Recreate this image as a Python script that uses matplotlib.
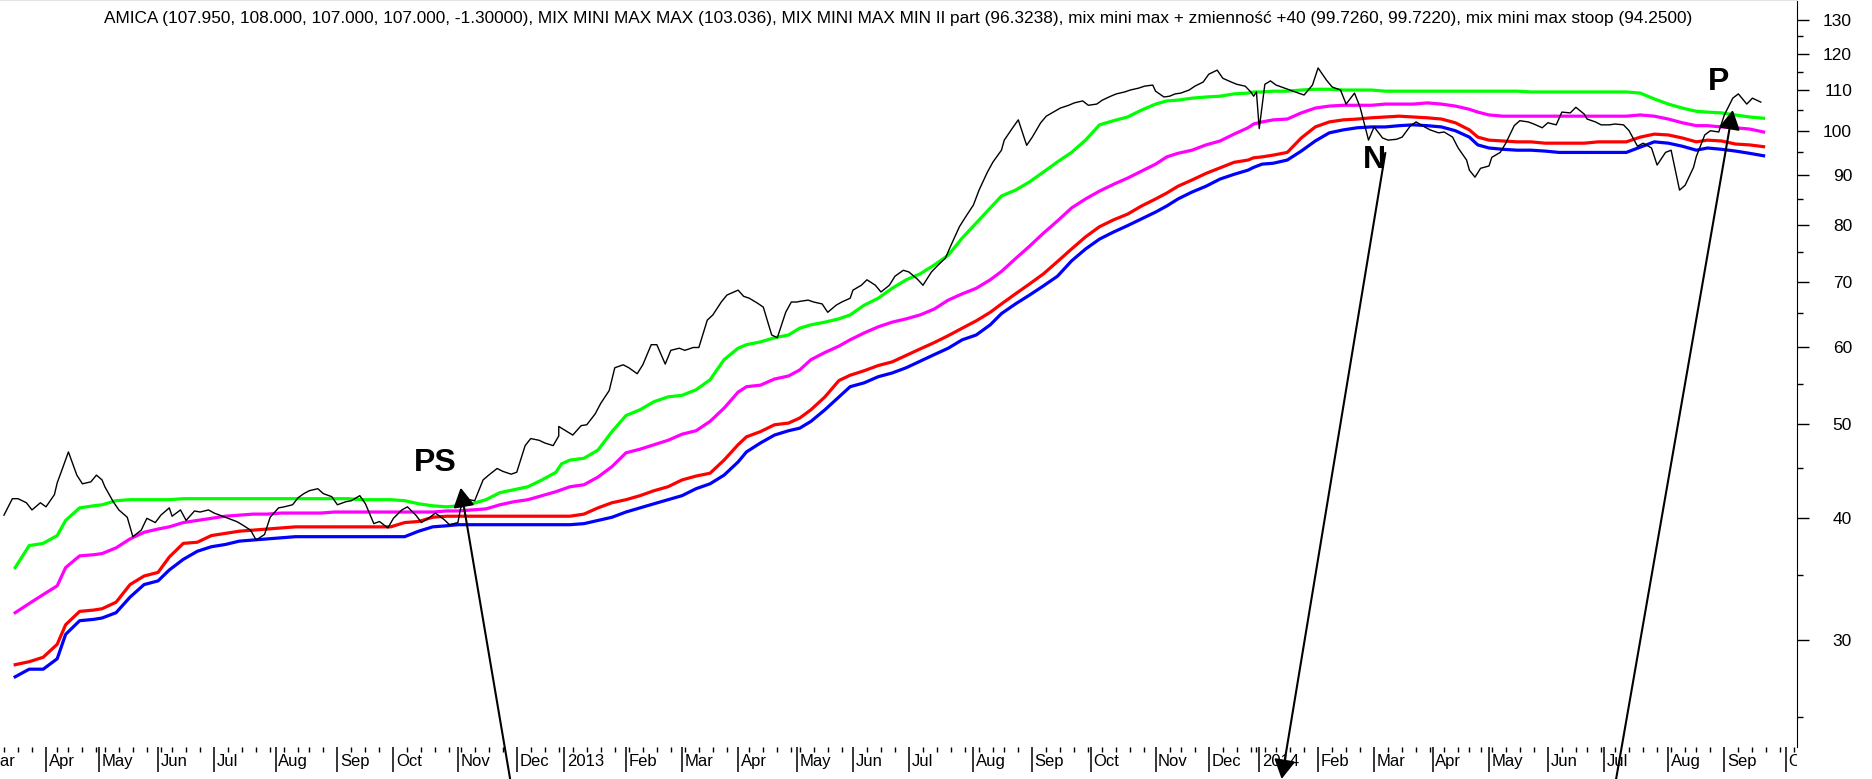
import numpy as np
import pandas as pd
import matplotlib
matplotlib.use('Agg')
import matplotlib.pyplot as plt
from matplotlib.ticker import NullFormatter
from matplotlib.transforms import Bbox, TransformedBbox, blended_transform_factory

plt.rcParams['font.family'] = ['Liberation Sans', 'DejaVu Sans']

# Warsaw exchange closing days inside the chart window
gpw_holidays = [
    '2012-04-06', '2012-04-09', '2012-05-01', '2012-05-03', '2012-06-07', '2012-08-15',
    '2012-11-01', '2012-12-24', '2012-12-25', '2012-12-26', '2012-12-31',
    '2013-01-01', '2013-03-29', '2013-04-01', '2013-05-01', '2013-05-03', '2013-05-30',
    '2013-08-15', '2013-11-01', '2013-11-11', '2013-12-24', '2013-12-25', '2013-12-26',
    '2013-12-31', '2014-01-01', '2014-01-06', '2014-04-18', '2014-04-21', '2014-05-01',
    '2014-06-19', '2014-08-15',
]

title = ('AMICA (107.950, 108.000, 107.000, 107.000, -1.30000), MIX MINI MAX MAX (103.036), '
         'MIX MINI MAX MIN II part (96.3238), mix mini max + zmienność +40 (99.7260, 99.7220), '
         'mix mini max stoop (94.2500)')

close_first, close_last = '2012-03-12', '2014-09-18'
close = [
    40.3, 41.9, 41.9, 41.5, 40.8, 41.5, 41.1, 42.3, 43.5, 45.1,
    46.8, 44.3, 43.4, 43.6, 44.3, 43.8, 43.1, 41.6, 40.8, 40.1,
    38.3, 38.9, 40.0, 39.6, 40.3, 41.0, 40.2, 40.8, 39.8, 40.7,
    40.6, 40.8, 40.5, 40.2, 40.0, 39.7, 39.4, 38.9, 38.0, 38.5,
    40.1, 41.0, 41.1, 41.3, 42.0, 42.4, 42.7, 42.9, 42.4, 42.1,
    41.3, 41.6, 41.7, 42.2, 41.4, 39.5, 39.7, 39.1, 40.0, 40.8,
    41.1, 40.3, 39.6, 40.1, 40.5, 39.9, 39.4, 39.6, 41.0, 41.8,
    41.7, 43.8, 44.3, 45.0, 44.7, 44.4, 44.6, 47.5, 48.3, 48.1,
    47.8, 47.5, 48.6, 49.7, 49.3, 49.1, 48.7, 49.8, 49.9, 51.2,
    52.5, 54.1, 57.1, 57.5, 57.1, 56.3, 57.5, 60.3, 60.3, 57.6,
    59.5, 59.8, 59.5, 59.9, 59.9, 63.9, 64.7, 66.7, 67.8, 68.4,
    68.6, 67.6, 67.3, 66.5, 65.9, 61.7, 61.3, 65.1, 66.7, 66.7,
    66.8, 67.0, 66.7, 66.4, 65.1, 66.2, 66.7, 67.3, 68.6, 69.4,
    70.3, 69.4, 68.3, 69.4, 70.9, 71.9, 71.6, 70.4, 69.4, 71.6,
    72.6, 74.0, 76.3, 79.7, 81.4, 83.9, 86.9, 90.7, 92.9, 95.5,
    97.8, 100.7, 102.6, 96.6, 98.5, 101.9, 103.5, 104.7, 105.5, 106.2,
    106.8, 107.3, 106.2, 106.5, 107.5, 108.5, 109.1, 109.6, 110.1, 110.6,
    111.1, 111.4, 109.8, 108.3, 108.5, 109.1, 109.3, 110.1, 111.1, 112.2,
    114.3, 115.4, 113.2, 112.2, 111.6, 111.1, 109.6, 108.5, 109.6, 100.5,
    111.6, 112.5, 111.4, 110.6, 110.1, 109.3, 108.8, 111.4, 116.0, 112.7,
    110.9, 110.1, 106.5, 109.3, 105.7, 97.8, 100.9, 98.3, 97.8, 98.0,
    98.5, 101.2, 102.1, 100.9, 100.2, 99.5, 99.7, 98.5, 96.0, 93.3,
    91.1, 89.6, 91.5, 92.0, 93.9, 95.0, 97.1, 101.2, 102.4, 102.1,
    101.6, 100.7, 101.9, 101.4, 104.5, 104.3, 105.7, 104.0, 102.8, 102.1,
    101.4, 101.4, 101.6, 101.4, 100.0, 96.4, 97.1, 96.0, 92.2, 95.0,
    95.5, 86.9, 87.9, 91.7, 94.1, 99.0, 100.0, 99.7, 103.8, 108.0,
    109.1, 106.5, 108.0, 107.0,
]

# indicator lines
band_first, band_last = '2012-03-16', '2014-09-19'
mix_max = [  # MIX MINI MAX MAX (green)
    35.6, 37.5, 37.7, 38.4, 39.8, 41.0, 41.2, 41.3, 41.7, 41.8,
    41.8, 41.8, 41.8, 41.9, 41.9, 41.9, 41.9, 41.9, 41.9, 41.9,
    41.9, 41.9, 41.9, 41.9, 41.9, 41.9, 41.8, 41.8, 41.8, 41.7,
    41.4, 41.2, 41.1, 41.2, 41.4, 41.8, 42.5, 42.8, 43.1, 43.8,
    44.6, 45.5, 45.9, 46.1, 47.0, 49.1, 51.0, 51.7, 52.7, 53.3,
    53.5, 54.2, 55.5, 58.2, 59.8, 60.3, 60.7, 61.3, 61.7, 62.7,
    63.2, 63.6, 64.1, 64.7, 66.2, 67.3, 68.9, 70.3, 71.3, 72.8,
    74.5, 77.6, 80.4, 83.3, 85.7, 86.9, 88.6, 90.7, 92.9, 95.0,
    97.8, 101.4, 102.4, 103.3, 105.0, 106.5, 107.3, 107.5, 108.0, 108.3,
    108.5, 109.1, 109.3, 109.6, 109.6, 109.8, 109.8, 110.1, 110.3, 110.3,
    110.1, 110.1, 110.1, 109.8, 109.8, 109.8, 109.8, 109.8, 109.8, 109.8,
    109.8, 109.8, 109.8, 109.8, 109.6, 109.6, 109.6, 109.6, 109.6, 109.6,
    109.6, 109.6, 109.3, 107.8, 106.5, 105.5, 104.7, 104.5, 104.3, 103.8,
    103.3, 103.0,
]
mix_vol40 = [  # mix mini max + zmiennosc +40 (magenta)
    32.0, 32.7, 33.4, 34.1, 35.6, 36.6, 36.7, 36.8, 37.3, 38.1,
    38.7, 39.0, 39.2, 39.6, 39.8, 40.0, 40.2, 40.3, 40.4, 40.4,
    40.5, 40.5, 40.5, 40.5, 40.6, 40.6, 40.6, 40.6, 40.6, 40.6,
    40.6, 40.6, 40.7, 40.7, 40.8, 40.9, 41.3, 41.6, 41.8, 42.2,
    42.6, 42.8, 43.1, 43.3, 44.1, 45.2, 46.7, 47.1, 47.6, 48.1,
    48.8, 49.2, 50.3, 51.9, 53.9, 54.6, 54.8, 55.6, 56.0, 56.8,
    58.2, 59.2, 60.1, 61.0, 62.0, 62.9, 63.6, 64.1, 64.7, 65.6,
    67.0, 68.0, 68.9, 70.3, 71.7, 73.9, 76.1, 78.5, 80.8, 83.3,
    85.1, 86.7, 88.1, 89.4, 90.9, 92.4, 94.0, 94.8, 95.5, 96.7,
    97.6, 99.2, 100.7, 101.6, 102.1, 102.6, 102.8, 104.3, 105.5, 106.0,
    106.2, 106.2, 106.2, 106.5, 106.5, 106.5, 106.8, 106.5, 106.0, 105.2,
    104.5, 103.8, 103.5, 103.5, 103.5, 103.5, 103.5, 103.5, 103.5, 103.5,
    103.5, 103.5, 103.8, 103.5, 102.8, 101.9, 101.2, 101.2, 100.9, 100.7,
    100.4, 99.7,
]
mix_min2 = [  # MIX MINI MAX MIN II part (red)
    28.3, 28.5, 28.8, 29.7, 31.1, 32.1, 32.2, 32.3, 32.8, 34.2,
    34.9, 35.2, 36.5, 37.7, 37.8, 38.4, 38.6, 38.8, 38.9, 39.0,
    39.1, 39.2, 39.2, 39.2, 39.2, 39.2, 39.2, 39.2, 39.2, 39.6,
    39.7, 40.1, 40.2, 40.2, 40.2, 40.2, 40.2, 40.2, 40.2, 40.2,
    40.2, 40.2, 40.2, 40.4, 41.0, 41.5, 41.8, 42.2, 42.7, 43.1,
    43.8, 44.2, 44.5, 45.9, 47.6, 48.5, 49.1, 49.9, 50.1, 50.7,
    51.7, 53.3, 55.4, 56.1, 56.7, 57.4, 57.9, 58.8, 59.7, 60.6,
    61.6, 62.7, 63.8, 65.1, 66.4, 68.0, 69.6, 71.3, 73.4, 75.6,
    77.8, 79.7, 81.0, 82.1, 83.7, 85.1, 86.3, 87.7, 89.0, 90.4,
    91.6, 92.8, 93.3, 93.8, 94.0, 94.4, 95.0, 98.3, 100.9, 102.1,
    102.6, 102.8, 103.1, 103.3, 103.5, 103.3, 103.1, 102.8, 101.9, 100.2,
    98.5, 97.8, 97.6, 97.4, 97.4, 97.1, 97.1, 97.1, 97.1, 97.4,
    97.4, 97.4, 98.5, 99.2, 99.0, 98.3, 97.4, 97.8, 97.6, 96.9,
    96.7, 96.3,
]
mix_stoop = [  # mix mini max stoop (blue)
    27.5, 28.0, 28.0, 28.7, 30.4, 31.4, 31.5, 31.6, 32.0, 33.2,
    34.2, 34.5, 35.4, 36.3, 37.0, 37.4, 37.6, 37.9, 38.0, 38.1,
    38.2, 38.3, 38.3, 38.3, 38.3, 38.3, 38.3, 38.3, 38.3, 38.3,
    38.8, 39.2, 39.3, 39.4, 39.4, 39.4, 39.4, 39.4, 39.4, 39.4,
    39.4, 39.4, 39.4, 39.5, 39.8, 40.1, 40.6, 41.0, 41.4, 41.8,
    42.2, 42.9, 43.4, 44.3, 45.7, 46.8, 47.8, 48.7, 49.2, 49.5,
    50.3, 51.7, 53.3, 54.6, 55.1, 55.9, 56.4, 57.1, 58.0, 58.9,
    59.8, 61.0, 61.7, 63.2, 64.9, 66.4, 67.8, 69.3, 70.9, 73.5,
    75.6, 77.4, 78.7, 79.9, 81.2, 82.5, 83.7, 85.1, 86.5, 87.7,
    89.2, 90.2, 91.1, 91.7, 92.4, 92.6, 93.3, 95.3, 97.6, 99.5,
    100.2, 100.7, 100.9, 100.9, 101.2, 101.4, 101.2, 100.9, 100.0, 98.5,
    96.7, 96.0, 95.7, 95.5, 95.5, 95.3, 95.0, 95.0, 95.0, 95.0,
    95.0, 95.0, 96.2, 97.4, 97.1, 96.4, 95.5, 96.0, 95.7, 95.3,
    94.8, 94.25,
]

# hand-drawn marks: (label, date, price) and arrows (tail date, tail price, tip date, tip price)
marks = [('PS', '2012-10-22', 45.6), ('N', '2014-03-03', 93.3), ('P', '2014-08-28', 112.2)]
arrows = [('2012-11-29', 21.3, '2012-11-05', 43.0),
          ('2014-03-07', 94.9, '2014-01-15', 21.6),
          ('2014-07-07', 21.3, '2014-09-04', 105.0)]

# trading-day axis
days = pd.bdate_range('2012-02-20', '2014-10-31', freq='C', holidays=gpw_holidays)


def pos(d):
    return days.searchsorted(pd.to_datetime(d))


close_dates = pd.date_range(close_first, close_last, freq='W-MON').union(
    pd.date_range(close_first, close_last, freq='W-THU'))
band_dates = pd.date_range(band_first, band_last, freq='W-FRI')
assert len(close_dates) == len(close)
for s in (mix_max, mix_vol40, mix_min2, mix_stoop):
    assert len(s) == len(band_dates)

idx = pd.Series(np.arange(len(days)), index=days)
month_first = idx.groupby(days.to_period('M')).first()
week_first = idx.groupby(days.to_period('W')).first()

W, H = 1872, 779
ax_right, ax_bottom = 1797, 747
fig = plt.figure(figsize=(W / 100, H / 100), dpi=100)
ax = fig.add_axes([0, 1 - ax_bottom / H, ax_right / W, ax_bottom / H])

xc = pos(close_dates)
xb = pos(band_dates)
ax.plot(xb, mix_stoop, color='#0000ff', lw=2.3, zorder=2)
ax.plot(xb, mix_min2, color='#ff0000', lw=2.3, zorder=2)
ax.plot(xb, mix_vol40, color='#ff00ff', lw=2.3, zorder=2)
ax.plot(xb, mix_max, color='#00ff00', lw=2.3, zorder=2)
ax.plot(xc, close, color='black', lw=1.0, zorder=3)

for side in ('left', 'bottom'):
    ax.spines[side].set_visible(False)
ax.spines['top'].set_color('#e4e4e4')
ax.spines['right'].set_color('black')

# log price scale on the right
ax.set_yscale('log')
ax.yaxis.tick_right()
major = [30, 40, 50, 60, 70, 80, 90, 100, 110, 120, 130]
ax.set_yticks(major, labels=[str(v) for v in major])
ax.set_yticks([25, 35, 45, 55, 65, 75, 85, 95, 105, 115, 125], minor=True)
ax.yaxis.set_minor_formatter(NullFormatter())
ax.tick_params(axis='y', which='major', length=8.6, width=1, pad=31, labelsize=12.5)
ax.tick_params(axis='y', which='minor', length=4.3, width=1)
for lbl in ax.get_yticklabels():
    lbl.set_horizontalalignment('right')

# trading-day x axis: month and week ticks
ax.set_xticks(month_first.values)
ax.set_xticks(week_first.values, minor=True)
ax.tick_params(axis='x', which='major', length=18, width=1.1, labelbottom=False)
ax.tick_params(axis='x', which='minor', length=3.6, width=1)

# limits last, so the tick lists do not widen them
ax.set_ylim(30 * np.exp(-(ax_bottom - 640) / 423), 30 * np.exp(640 / 423))
i_apr = month_first[pd.Period('2012-04', 'M')]
i_oct = month_first[pd.Period('2014-10', 'M')]
k = (1786 - 46) / (i_oct - i_apr)
x0, x1 = i_apr - 46 / k, i_apr + (ax_right - 46) / k
ax.set_xlim(x0, x1)

# month names sit right of their tick; cut at the price axis like the original
clip = TransformedBbox(Bbox([[0, 0], [ax_right / W, 1]]), fig.transFigure)
tr = blended_transform_factory(ax.transData, ax.transAxes)
for per, i in month_first.items():
    if i < x0 - 20 / k or i > x1:
        continue
    name = str(per.year) if per.month == 1 else per.strftime('%b')
    t = ax.text(i + 2.5 / k, -19 / ax_bottom, name, transform=tr, ha='left',
                va='baseline', fontsize=12, clip_on=True)
    t.set_clip_box(clip)

ax.text(0.5, 1 - 18 / ax_bottom, title, transform=ax.transAxes, ha='center',
        va='center', fontsize=12.4)

for label, d, p in marks:
    ax.text(pos(d), p, label, fontsize=23, fontweight='bold', ha='center', va='center')
for d0, p0, d1, p1 in arrows:
    ax.annotate('', xy=(pos(d1), p1), xytext=(pos(d0), p0), annotation_clip=False,
                arrowprops=dict(arrowstyle='-|>,head_length=0.45,head_width=0.25',
                                color='black', lw=1.5, mutation_scale=26,
                                shrinkA=0, shrinkB=0))

fig.savefig('out.png', dpi=100)
